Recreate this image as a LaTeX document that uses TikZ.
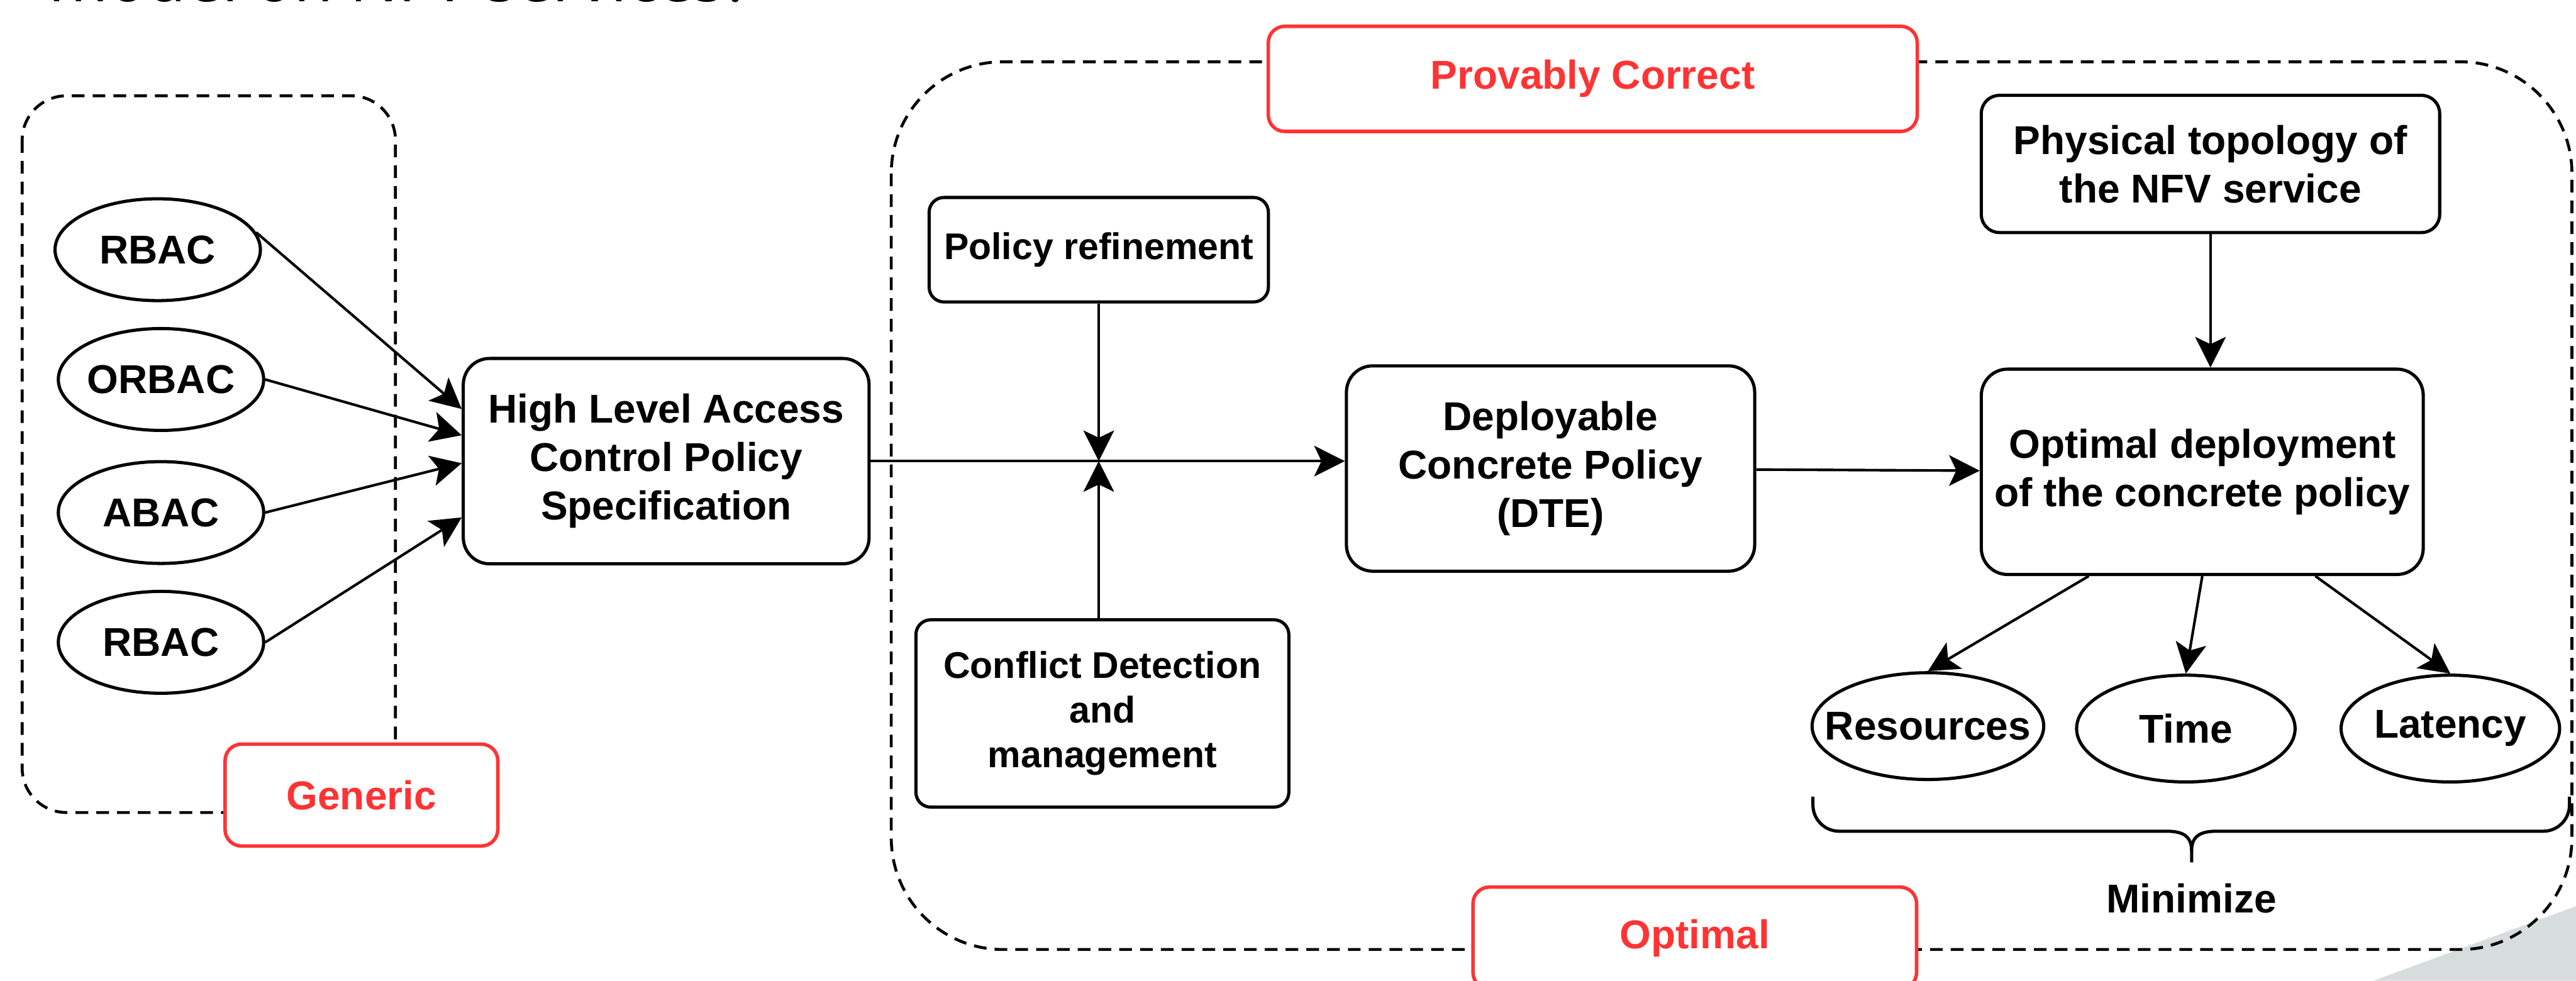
\documentclass[tikz,border=0pt]{standalone}
\usepackage{fontspec}
\setmainfont{Liberation Sans}
\newfontfamily\titlefont{Open Sans}
\usetikzlibrary{positioning, arrows.meta, calc, shapes.geometric}
\definecolor{red2}{RGB}{255, 51, 51}
\definecolor{corner2}{RGB}{215, 220, 220}

\newcommand{\ovaltext}[1]{\makebox[0pt]{#1}}

\tikzset{
  box/.style={draw, line width=0.55pt, rounded corners=0.16cm, fill=white, align=center, inner sep=0,
    font=\bfseries\fontsize{6.97}{8.37}\selectfont},
  smallbox/.style={box, rounded corners=0.09cm, font=\bfseries\fontsize{6.43}{7.72}\selectfont},
  oval/.style={draw, ellipse, line width=0.55pt, fill=white, inner sep=0,
    font=\bfseries\fontsize{6.97}{8.37}\selectfont},
  tag/.style={draw=red2, text=red2, line width=0.6pt, rounded corners=0.1cm, fill=white, inner sep=0,
    font=\bfseries\fontsize{6.97}{8.37}\selectfont},
  arr/.style={-{Stealth[length=5.3pt, width=5.3pt, inset=1.25pt]}, line width=0.45pt},
  group/.style={line width=0.5pt, dash pattern=on 2.2pt off 1.4pt}
}

\begin{document}
\begin{tikzpicture}[]
    \useasboundingbox (0,0) rectangle (15.68cm,-5.97cm);
    \clip (0,0) rectangle (15.68cm,-5.97cm);

    \fill[corner2] (14.447cm,-5.97cm) -- (15.68cm,-5.516cm) -- (15.68cm,-5.97cm) -- cycle;
    \node[anchor=base west, inner sep=0, font=\titlefont\fontsize{11.1}{13}\selectfont] (title) at (0.29cm,-0.009cm) {model on NFV services?};

	% dashed groups
	\draw[group, rounded corners=0.27cm] (0.135cm,-0.583cm) rectangle (2.407cm,-4.946cm);
	\draw[group, rounded corners=0.68cm] (5.425cm,-0.376cm) rectangle (15.655cm,-5.78cm);

	\node[oval, minimum width=1.25cm, minimum height=0.62cm] (rbac1) at (0.96cm,-1.52cm) {\ovaltext{RBAC}};
	\node[oval, minimum width=1.25cm, minimum height=0.62cm] (orbac) at (0.98cm,-2.31cm) {\ovaltext{ORBAC}};
	\node[oval, minimum width=1.25cm, minimum height=0.62cm] (abac) at (0.98cm,-3.12cm) {\ovaltext{ABAC}};
	\node[oval, minimum width=1.25cm, minimum height=0.62cm] (rbac2) at (0.98cm,-3.91cm) {\ovaltext{RBAC}};

	\node[box, minimum width=2.47cm, minimum height=1.25cm] (hl) at (4.055cm,-2.807cm) {High Level Access\\Control Policy\\Specification};
	\node[smallbox, minimum width=2.065cm, minimum height=0.636cm] (pr) at (6.688cm,-1.52cm) {Policy refinement};
	\node[smallbox, minimum width=2.27cm, minimum height=1.14cm] (cd) at (6.71cm,-4.343cm) {Conflict Detection\\and\\management};
	\node[box, minimum width=2.485cm, minimum height=1.25cm] (dcp) at (9.438cm,-2.852cm) {Deployable\\Concrete Policy\\(DTE)};
	\node[box, rounded corners=0.11cm, minimum width=2.79cm, minimum height=0.835cm] (phys) at (13.455cm,-0.998cm) {Physical topology of\\the NFV service};
	\node[box, minimum width=2.69cm, minimum height=1.25cm] (od) at (13.405cm,-2.872cm) {Optimal deployment\\of the concrete policy};

	\node[oval, minimum width=1.41cm, minimum height=0.65cm] (res) at (11.735cm,-4.42cm) {\ovaltext{Resources}};
	\node[oval, minimum width=1.33cm, minimum height=0.65cm] (time) at (13.305cm,-4.435cm) {\ovaltext{Time}};
	\node[oval, minimum width=1.33cm, minimum height=0.65cm] (lat) at (14.915cm,-4.435cm) {\ovaltext{Latency}};

	\foreach \src/\f in {rbac1.10/0.25, orbac.east/0.376, abac.east/0.51, rbac2.east/0.77} {
		\draw[arr] (\src) -- ($(hl.north west)!\f!(hl.south west)$);
	}

	\coordinate (j) at (pr.south |- hl.east);
	\draw[arr] (hl.east) -- (hl.east -| dcp.west);
	\draw[arr] (pr) -- (j);
	\draw[arr] (cd.north -| j) -- (j);
	\draw[arr] (dcp) -- (od);
	\draw[arr] (phys) -- (phys |- od.north);

	\draw[arr] ($(od.south west)!0.245!(od.south east)$) -- (res.north);
	\draw[arr] (od.south) -- (time.north);
	\draw[arr] ($(od.south west)!0.754!(od.south east)$) -- (lat.north);

	% brace under the three criteria
	\draw[line width=0.55pt] (11.035cm,-4.85cm) -- (11.035cm,-4.90cm) arc[start angle=180, end angle=270, radius=0.16cm]
		-- (13.19cm,-5.06cm) .. controls (13.30cm,-5.06cm) and (13.34cm,-5.10cm) .. (13.34cm,-5.18cm) -- (13.34cm,-5.25cm);
	\draw[line width=0.55pt] (15.64cm,-4.85cm) -- (15.64cm,-4.90cm) arc[start angle=0, end angle=-90, radius=0.16cm]
		-- (13.49cm,-5.06cm) .. controls (13.38cm,-5.06cm) and (13.34cm,-5.10cm) .. (13.34cm,-5.18cm);
	\node[inner sep=0, font=\bfseries\fontsize{6.97}{8.37}\selectfont] (minz) at (13.34cm,-5.47cm) {Minimize};

	\node[tag, minimum width=1.66cm, minimum height=0.62cm] (generic) at (2.20cm,-4.84cm) {Generic};
	\node[tag, minimum width=3.95cm, minimum height=0.64cm] (correct) at (9.695cm,-0.48cm) {Provably Correct};
	\node[tag, minimum width=2.70cm, minimum height=0.62cm] (optimal) at (10.316cm,-5.71cm) {Optimal};
\end{tikzpicture}
\end{document}
